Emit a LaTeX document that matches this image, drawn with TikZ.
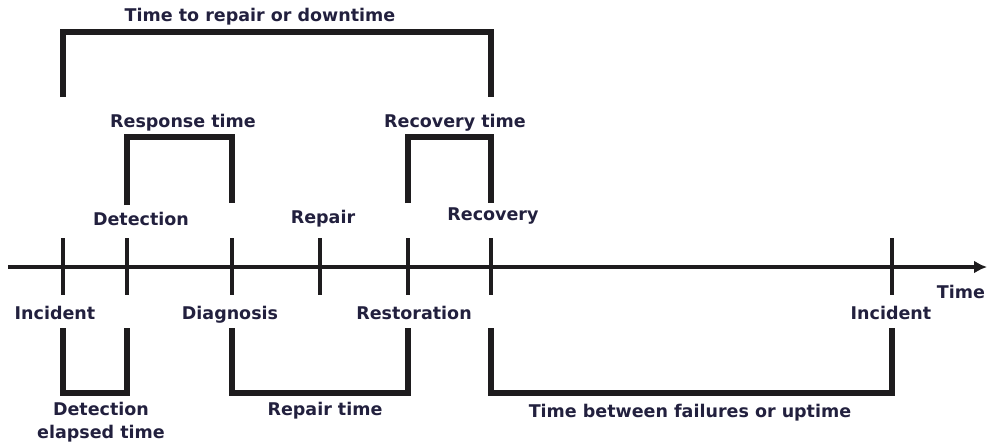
\documentclass[tikz,border=0pt]{standalone}
\usepackage{fontspec}
\setmainfont{DejaVu Sans}
\usetikzlibrary{arrows.meta}
\definecolor{ink}{RGB}{30,28,30}
\definecolor{txt}{RGB}{34,32,62}
\tikzset{
  lbl/.style={font=\bfseries\fontsize{17.5}{23}\selectfont, text=txt, inner sep=0pt, anchor=base},
  axisline/.style={draw=ink, line width=4.5pt, -{Latex[length=13pt,width=13pt]}},
  tick/.style={draw=ink, line width=4.5pt},
  bracket/.style={draw=ink, line width=5.5pt, line join=miter}
}
\begin{document}
\begin{tikzpicture}[x=1pt,y=-1pt]
\useasboundingbox (0,0) rectangle (987,445);
% tick positions on axis
\coordinate (a0) at (8,267);
\coordinate (aend) at (987,267);
\coordinate (t1) at (63,267);
\coordinate (t2) at (127,267);
\coordinate (t3) at (232,267);
\coordinate (t4) at (320,267);
\coordinate (t5) at (408,267);
\coordinate (t6) at (491,267);
\coordinate (t7) at (892,267);
% axis
\draw[axisline] (a0) -- (aend);
\foreach \t in {t1,t2,t3,t4,t5,t6,t7}{
  \draw[tick] ([yshift=29pt]\t) -- ([yshift=-28pt]\t);
}
% top brackets
\draw[bracket] ([yshift=170pt]t1) -- ([yshift=235pt]t1) -- ([yshift=235pt]t6) -- ([yshift=170pt]t6);
\draw[bracket] ([yshift=62pt]t2) -- ([yshift=130pt]t2) -- ([yshift=130pt]t3) -- ([yshift=64pt]t3);
\draw[bracket] ([yshift=64pt]t5) -- ([yshift=130pt]t5) -- ([yshift=130pt]t6) -- ([yshift=64pt]t6);
% bottom brackets
\draw[bracket] ([yshift=-61pt]t1) -- ([yshift=-126pt]t1) -- ([yshift=-126pt]t2) -- ([yshift=-61pt]t2);
\draw[bracket] ([yshift=-61pt]t3) -- ([yshift=-126pt]t3) -- ([yshift=-126pt]t5) -- ([yshift=-61pt]t5);
\draw[bracket] ([yshift=-61pt]t6) -- ([yshift=-126pt]t6) -- ([yshift=-126pt]t7) -- ([yshift=-61pt]t7);
% labels
\node[lbl] (ttr) at (260,21) {Time to repair or downtime};
\node[lbl] (rsp) at (183,127) {Response time};
\node[lbl] (rcvt) at (455,127) {Recovery time};
\node[lbl] (det) at (141,225) {Detection};
\node[lbl] (rep) at (323,223) {Repair};
\node[lbl] (rcv) at (493,220) {Recovery};
\node[lbl] (inc1) at (55,319) {Incident};
\node[lbl] (diag) at (230,319) {Diagnosis};
\node[lbl] (rest) at (414,319) {Restoration};
\node[lbl] (inc2) at (891,319) {Incident};
\node[lbl] (time) at (961,298) {Time};
\node[lbl, align=center] (det2) at (101,438) {Detection\\elapsed time};
\node[lbl] (rpt) at (325,415) {Repair time};
\node[lbl] (upt) at (690,417) {Time between failures or uptime};
\end{tikzpicture}
\end{document}
